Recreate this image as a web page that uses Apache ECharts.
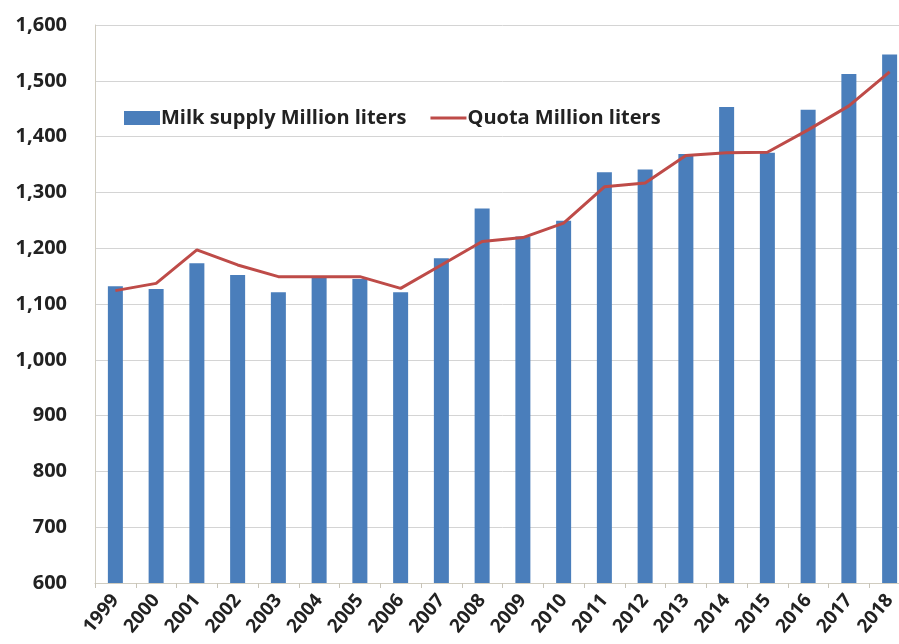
<!DOCTYPE html>
<html>
<head>
<meta charset="utf-8">
<script src="https://cdn.jsdelivr.net/npm/echarts@6/dist/echarts.min.js"></script>
<style>
html,body{margin:0;padding:0;background:#fff;overflow:hidden;}
#main{width:910px;height:644px;}
</style>
</head>
<body>
<div id="main"></div>
<script>
var years = ['1999','2000','2001','2002','2003','2004','2005','2006','2007','2008','2009','2010','2011','2012','2013','2014','2015','2016','2017','2018'];
var milkSupply = [1132,1127,1173,1152,1121,1148,1145,1121,1182,1271,1221,1249,1336,1341,1369,1453,1371,1448,1512,1547];
var quota = [1124,1137,1197,1170,1149,1149,1149,1128,1170,1212,1219,1245,1310,1317,1366,1371,1372,1412,1455,1516];
var yTicks = {min:600, max:1600, interval:100};

var chart = echarts.init(document.getElementById('main'), null, {renderer:'canvas'});
var font = '"Open Sans", Lato, sans-serif';
chart.setOption({
  animation:false,
  backgroundColor:'#ffffff',
  grid:{left:95, right:0, top:25, bottom:61},
  legend:{
    top:103, left:119,
    itemWidth:36, itemHeight:14, itemGap:24,
    textStyle:{fontFamily:font, fontSize:20, fontWeight:'bold', color:'#222', padding:[0,0,0,-4]},
    data:[
      {name:'Milk supply Million liters', icon:'rect'},
      {name:'Quota Million liters', icon:'path://M0,0 L0.01,0 M0,14 L0.01,14 M0,5.5 L36,5.5 L36,8.5 L0,8.5 Z'}
    ]
  },
  xAxis:{
    type:'category', data:years,
    axisLine:{lineStyle:{color:'#d0ccc0', width:1}},
    axisTick:{show:true, length:5, lineStyle:{color:'#c8c4b8'}},
    axisLabel:{rotate:50, fontFamily:font, fontSize:19, fontWeight:'bold', color:'#222', margin:14}
  },
  yAxis:{
    type:'value', min:yTicks.min, max:yTicks.max, interval:yTicks.interval,
    axisLine:{show:true, lineStyle:{color:'#d0ccc0'}},
    axisTick:{show:false},
    splitLine:{lineStyle:{color:'#d4d4d4', width:1}},
    axisLabel:{fontFamily:font, fontSize:20, fontWeight:'bold', color:'#222', margin:28,
      formatter:function(v){return v.toLocaleString('en-US');}}
  },
  series:[
    {name:'Milk supply Million liters', type:'bar', data:milkSupply, barWidth:15,
      itemStyle:{color:'#4a7ebb'}},
    {name:'Quota Million liters', type:'line', data:quota, symbol:'none',
      lineStyle:{color:'#be4b48', width:3}, itemStyle:{color:'#be4b48'}}
  ]
});
</script>
</body>
</html>
